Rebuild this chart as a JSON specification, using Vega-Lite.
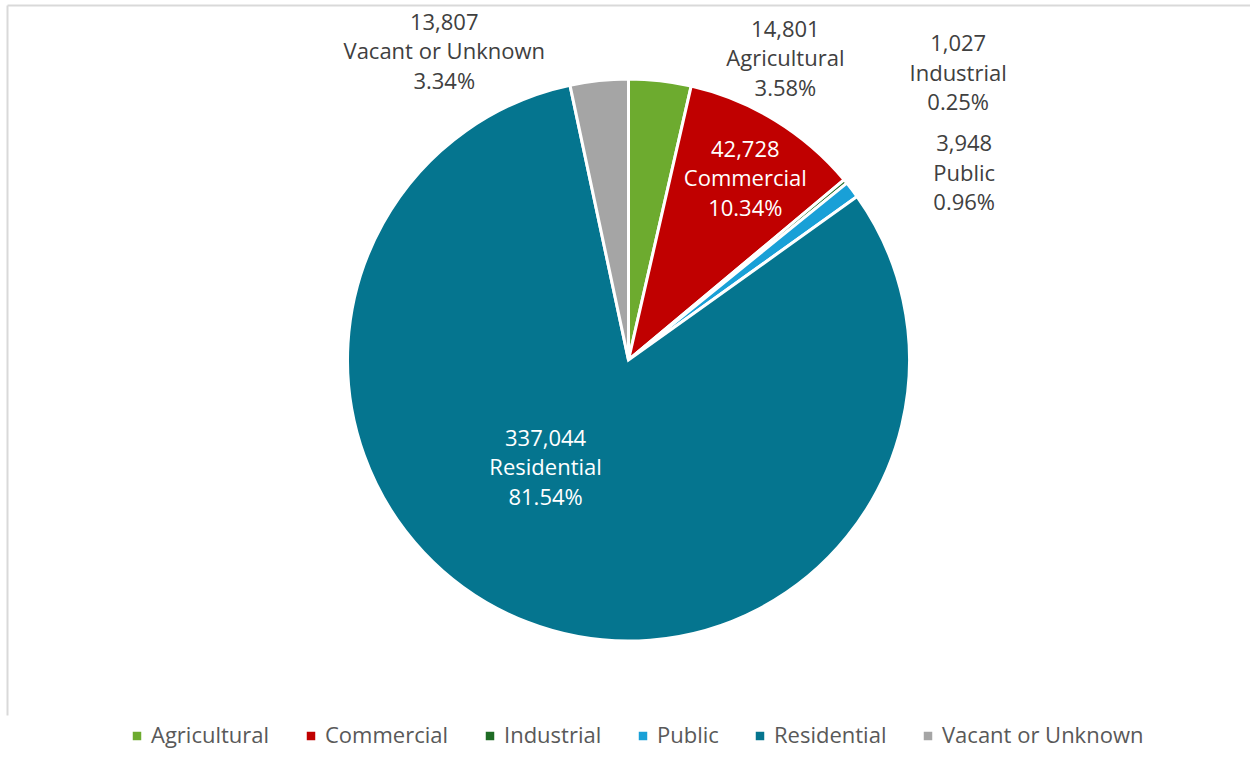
{
  "$schema": "https://vega.github.io/schema/vega-lite/v6.json",
  "width": 1243,
  "height": 710,
  "autosize": {"type": "none"},
  "padding": {"left": 7, "top": 5, "right": 0, "bottom": 56},
  "background": "white",
  "config": {
    "view": {"stroke": null},
    "font": "Open Sans",
    "text": {"font": "Open Sans"}
  },
  "data": {
    "values": [
      {"category": "Agricultural", "value": 14801, "pct": "3.58%"},
      {"category": "Commercial", "value": 42728, "pct": "10.34%"},
      {"category": "Industrial", "value": 1027, "pct": "0.25%"},
      {"category": "Public", "value": 3948, "pct": "0.96%"},
      {"category": "Residential", "value": 337044, "pct": "81.54%"},
      {"category": "Vacant or Unknown", "value": 13807, "pct": "3.34%"}
    ]
  },
  "transform": [
    {"stack": "value", "groupby": [], "sort": [{"field": "category", "order": "ascending"}], "as": ["s0", "s1"]},
    {"calculate": "(datum.s0 + datum.s1) / 2", "as": "mid"},
    {"calculate": "format(datum.value, ',') + '\\n' + datum.category + '\\n' + datum.pct", "as": "label"}
  ],
  "layer": [
    {
      "mark": {"type": "point", "opacity": 0},
      "encoding": {
        "x": {"field": "value", "type": "quantitative", "axis": {"orient": "top", "domainColor": "#d9d9d9", "domainWidth": 2, "ticks": false, "labels": false, "title": null, "grid": false}},
        "y": {"field": "value", "type": "quantitative", "axis": {"orient": "left", "domainColor": "#d9d9d9", "domainWidth": 2, "ticks": false, "labels": false, "title": null, "grid": false}}
      }
    },
    {
      "mark": {"type": "arc", "radius": 281, "stroke": "white", "strokeWidth": 3},
      "encoding": {
        "theta": {"field": "value", "type": "quantitative", "stack": true},
        "order": {"field": "category", "sort": "ascending"},
        "color": {
          "field": "category",
          "type": "nominal",
          "scale": {
            "domain": ["Agricultural", "Commercial", "Industrial", "Public", "Residential", "Vacant or Unknown"],
            "range": ["#6DAB2F", "#C00000", "#1E6B24", "#19A0D7", "#05758F", "#A5A5A5"]
          },
          "legend": {
            "orient": "none",
            "legendX": 119,
            "legendY": 720,
            "direction": "horizontal",
            "title": null,
            "symbolType": "square",
            "symbolSize": 72,
            "symbolStrokeWidth": 0,
            "labelFont": "Open Sans",
            "labelFontSize": 22,
            "labelColor": "#595959",
            "labelLimit": 0,
            "columnPadding": 30,
            "labelOffset": 3,
            "padding": 0
          }
        }
      }
    },
    {
      "transform": [{"filter": "datum.category === 'Agricultural'"}],
      "mark": {"type": "text", "radius": 302, "dx": 123, "dy": -30, "fontSize": 22, "lineBreak": "\n", "lineHeight": 29.5, "color": "#404040", "baseline": "middle", "align": "center"},
      "encoding": {"theta": {"field": "mid", "type": "quantitative"}, "text": {"field": "label"}}
    },
    {
      "transform": [{"filter": "datum.category === 'Commercial'"}],
      "mark": {"type": "text", "radius": 214, "dx": 5, "dy": -28, "fontSize": 22, "lineBreak": "\n", "lineHeight": 29.5, "color": "white", "baseline": "middle", "align": "center"},
      "encoding": {"theta": {"field": "mid", "type": "quantitative"}, "text": {"field": "label"}}
    },
    {
      "transform": [{"filter": "datum.category === 'Industrial'"}],
      "mark": {"type": "text", "radius": 300, "dx": 98, "dy": -125, "fontSize": 22, "lineBreak": "\n", "lineHeight": 29.5, "color": "#404040", "baseline": "middle", "align": "center"},
      "encoding": {"theta": {"field": "mid", "type": "quantitative"}, "text": {"field": "label"}}
    },
    {
      "transform": [{"filter": "datum.category === 'Public'"}],
      "mark": {"type": "text", "radius": 310, "dx": 89, "dy": -28, "fontSize": 22, "lineBreak": "\n", "lineHeight": 29.5, "color": "#404040", "baseline": "middle", "align": "center"},
      "encoding": {"theta": {"field": "mid", "type": "quantitative"}, "text": {"field": "label"}}
    },
    {
      "transform": [{"filter": "datum.category === 'Residential'"}],
      "mark": {"type": "text", "radius": 138, "dx": -33, "dy": -50, "fontSize": 22, "lineBreak": "\n", "lineHeight": 29.5, "color": "white", "baseline": "middle", "align": "center"},
      "encoding": {"theta": {"field": "mid", "type": "quantitative"}, "text": {"field": "label"}}
    },
    {
      "transform": [{"filter": "datum.category === 'Vacant or Unknown'"}],
      "mark": {"type": "text", "radius": 308, "dx": -152, "dy": -31, "fontSize": 22, "lineBreak": "\n", "lineHeight": 29.5, "color": "#404040", "baseline": "middle", "align": "center"},
      "encoding": {"theta": {"field": "mid", "type": "quantitative"}, "text": {"field": "label"}}
    }
  ]
}
